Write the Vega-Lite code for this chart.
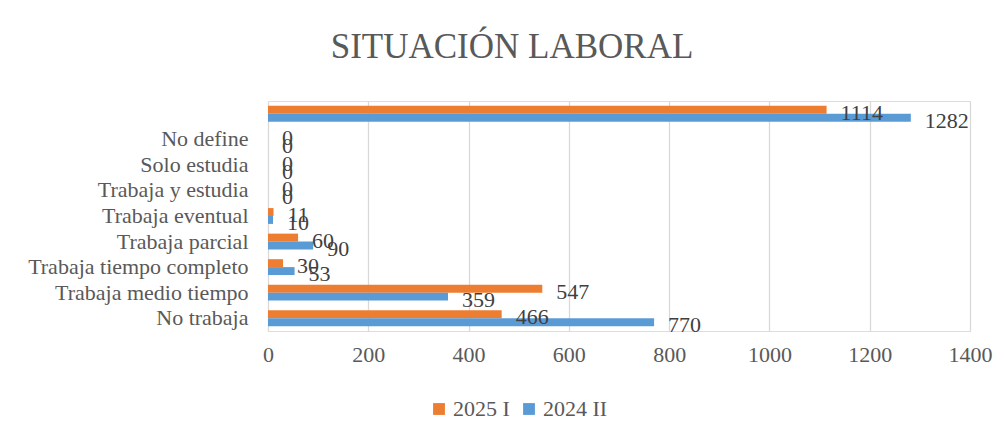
{
  "$schema": "https://vega.github.io/schema/vega-lite/v6.json",
  "autosize": {"type": "none"},
  "width": 702,
  "height": 230,
  "padding": {"left": 268, "top": 101, "right": 36, "bottom": 108},
  "background": "white",
  "title": {
    "text": "SITUACIÓN LABORAL",
    "font": "Liberation Serif",
    "fontSize": 35,
    "fontWeight": "normal",
    "color": "#595959",
    "anchor": "middle",
    "dx": -107,
    "offset": 36
  },
  "data": {
    "values": [
      {"cat": " ", "serie": "2025 I", "valor": 1114},
      {"cat": " ", "serie": "2024 II", "valor": 1282},
      {"cat": "No define", "serie": "2025 I", "valor": 0},
      {"cat": "No define", "serie": "2024 II", "valor": 0},
      {"cat": "Solo estudia", "serie": "2025 I", "valor": 0},
      {"cat": "Solo estudia", "serie": "2024 II", "valor": 0},
      {"cat": "Trabaja y estudia", "serie": "2025 I", "valor": 0},
      {"cat": "Trabaja y estudia", "serie": "2024 II", "valor": 0},
      {"cat": "Trabaja eventual", "serie": "2025 I", "valor": 11},
      {"cat": "Trabaja eventual", "serie": "2024 II", "valor": 10},
      {"cat": "Trabaja parcial", "serie": "2025 I", "valor": 60},
      {"cat": "Trabaja parcial", "serie": "2024 II", "valor": 90},
      {"cat": "Trabaja tiempo completo", "serie": "2025 I", "valor": 30},
      {"cat": "Trabaja tiempo completo", "serie": "2024 II", "valor": 53},
      {"cat": "Trabaja medio tiempo", "serie": "2025 I", "valor": 547},
      {"cat": "Trabaja medio tiempo", "serie": "2024 II", "valor": 359},
      {"cat": "No trabaja", "serie": "2025 I", "valor": 466},
      {"cat": "No trabaja", "serie": "2024 II", "valor": 770}
    ]
  },
  "encoding": {
    "y": {
      "field": "cat",
      "type": "nominal",
      "sort": [" ", "No define", "Solo estudia", "Trabaja y estudia", "Trabaja eventual", "Trabaja parcial", "Trabaja tiempo completo", "Trabaja medio tiempo", "No trabaja"],
      "scale": {"paddingInner": 0.38, "paddingOuter": 0.19},
      "axis": {
        "title": null,
        "ticks": false,
        "domain": false,
        "labelFont": "Liberation Serif",
        "labelFontSize": 22,
        "labelColor": "#595959",
        "labelPadding": 20,
        "labelLimit": 300
      }
    },
    "yOffset": {"field": "serie", "type": "nominal", "sort": ["2025 I", "2024 II"]},
    "x": {
      "field": "valor",
      "type": "quantitative",
      "scale": {"domain": [0, 1400], "nice": false},
      "axis": {
        "title": null,
        "values": [0, 200, 400, 600, 800, 1000, 1200, 1400],
        "format": "d",
        "ticks": false,
        "domain": false,
        "grid": true,
        "gridColor": "#D9D9D9",
        "gridWidth": 1.3,
        "labelFont": "Liberation Serif",
        "labelFontSize": 22,
        "labelColor": "#595959",
        "labelPadding": 13,
        "labelFlush": false
      }
    }
  },
  "layer": [
    {
      "mark": {"type": "bar"},
      "encoding": {
        "color": {
          "field": "serie",
          "type": "nominal",
          "sort": ["2025 I", "2024 II"],
          "scale": {"domain": ["2025 I", "2024 II"], "range": ["#ED7D31", "#5B9BD5"]},
          "legend": {
            "title": null,
            "orient": "none",
            "legendX": 160,
            "legendY": 297,
            "direction": "horizontal",
            "symbolType": "square",
            "symbolSize": 140,
            "symbolStrokeWidth": 0,
            "symbolOpacity": 1,
            "labelFont": "Liberation Serif",
            "labelFontSize": 22,
            "labelColor": "#595959",
            "labelOffset": 3,
            "columnPadding": 8
          }
        }
      }
    },
    {
      "mark": {"type": "text", "align": "left", "baseline": "middle", "dx": 14, "dy": 3, "font": "Liberation Serif", "fontSize": 22, "color": "#404040"},
      "encoding": {
        "text": {"field": "valor", "type": "quantitative"}
      }
    }
  ]
}
